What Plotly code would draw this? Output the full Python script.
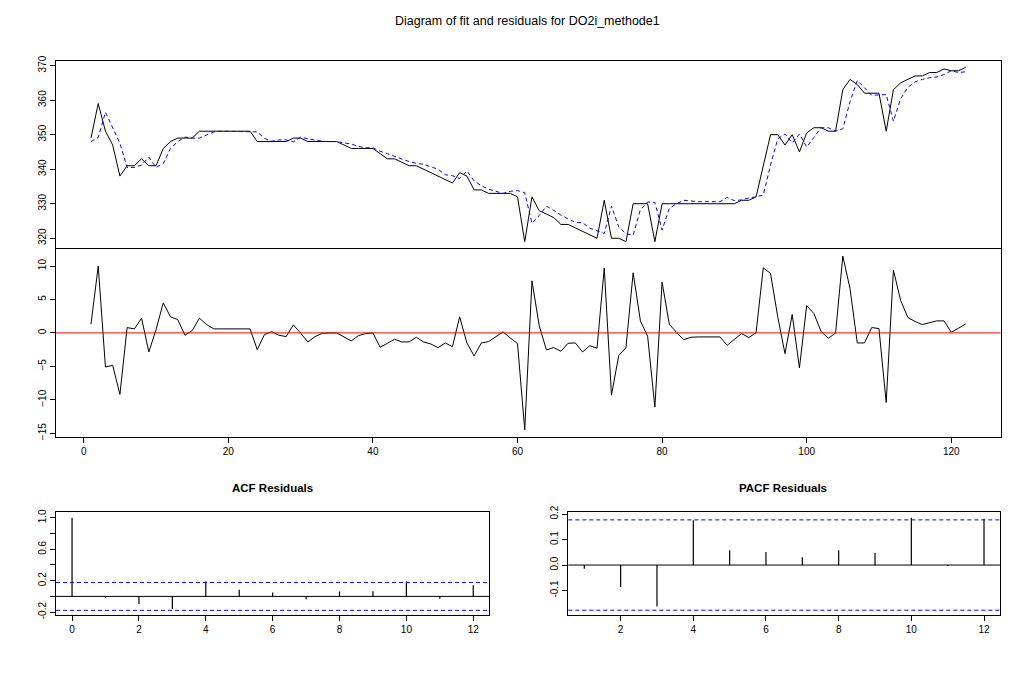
import plotly.graph_objects as go

W, H = 1024, 695

# ---------------- data ----------------
t = list(range(1, 123))

actual = [
    349, 359, 351, 347, 338, 341, 341, 343, 341, 341,
    346, 348, 349, 349, 349, 351, 351, 351, 351, 351,
    351, 351, 351, 348, 348, 348, 348, 348, 349, 349,
    348, 348, 348, 348, 348, 347, 346, 346, 346, 346,
    344.5, 343, 343, 342, 341, 341, 340, 339, 338, 337,
    336, 339, 338, 334, 334, 333, 333, 333, 333, 332,
    319, 332, 328, 327, 326, 324, 324, 323, 322, 321,
    320, 331, 320, 320, 319, 330, 330, 330, 319, 330,
    330, 330, 330, 330, 330, 330, 330, 330, 330, 330,
    331, 331, 332, 341, 350, 350, 347, 350, 345, 350.5,
    352, 352, 351, 351, 363, 366, 364.5, 362, 362, 362,
    351, 363, 365, 366, 367, 367, 368, 368, 369, 368.5,
    368.5, 369.5,
]

fitted = [
    348, 349.2, 356.5, 352, 347.5, 340.5, 340.5, 341.2, 343.5, 340.5,
    341.6, 346, 348, 349.3, 349, 349, 350, 350.8, 351, 351,
    351, 351, 351, 350.8, 348.9, 348.1, 348.5, 348.5, 347.9, 349.3,
    348.8, 348.4, 348.1, 348, 348, 347.6, 347.3, 346.6, 346.2, 346.2,
    345.2, 344.5, 343.7, 343.1, 342.2, 341.7, 341.4, 340.7, 340, 338.4,
    338.1, 337.3, 339.5, 336.6, 335.2, 334.2, 333.5, 333, 333.6, 333.8,
    333.2, 324.3, 326.6, 329.3, 328.1, 326.7, 325.6, 324.6, 324.5, 322.9,
    322.2, 321.4, 329.3, 323.3, 321.3, 320.9, 328.3, 330.5, 330.4, 322.4,
    328.7, 330, 331, 330.7, 330.6, 330.6, 330.6, 330.6, 331.8, 330.9,
    331.1, 331.7, 332, 332.5, 341.2, 348.8, 350.2, 347.6, 350.2, 346.4,
    349.2, 352, 352, 351, 351.7, 359.6, 365.7, 363.4, 361.4, 361.5,
    361.6, 353.9, 360.4, 363.7, 365.3, 366, 366.5, 366.7, 367.4, 368.5,
    368, 368.2,
]

residuals = [
    1.3, 10.0, -5.1, -4.85, -9.2, 0.8, 0.6, 2.2, -2.85, 0.5,
    4.5, 2.4, 2.0, -0.35, 0.35, 2.2, 1.25, 0.6, 0.6, 0.6,
    0.6, 0.6, 0.6, -2.5, -0.25, 0.2, -0.35, -0.55, 1.2, -0.05,
    -1.35, -0.55, -0.05, 0, 0, -0.6, -1.2, -0.4, -0.1, 0,
    -2.15, -1.55, -0.95, -1.35, -1.35, -0.65, -1.35, -1.65, -2.2, -1.5,
    -2.05, 2.4, -1.5, -3.45, -1.5, -1.3, -0.6, 0.15, -0.75, -1.6,
    -14.5, 7.8, 1.1, -2.55, -2.2, -2.75, -1.55, -1.5, -2.85, -1.9,
    -2.3, 9.7, -9.3, -3.4, -2.2, 9.0, 1.8, -0.5, -11.1, 7.6,
    1.3, 0.05, -1.0, -0.65, -0.6, -0.6, -0.6, -0.6, -1.85, -0.9,
    -0.1, -0.7, 0.05, 9.75, 8.9, 2.4, -3.1, 2.75, -5.25, 4.1,
    2.9, 0.2, -0.8, 0, 11.5, 6.6, -1.5, -1.5, 0.8, 0.65,
    -10.4, 9.4, 4.85, 2.3, 1.7, 1.25, 1.5, 1.8, 1.8, 0.1,
    0.7, 1.35,
]

acf_lags = list(range(0, 13))
acf_vals = [1.0, -0.02, -0.097, -0.16, 0.19, 0.084, 0.05, -0.038, 0.063, 0.067, 0.19, -0.03, 0.143]

pacf_lags = list(range(1, 13))
pacf_vals = [-0.015, -0.086, -0.163, 0.176, 0.058, 0.051, 0.031, 0.058, 0.047, 0.186, -0.004, 0.182]

conf_band = 0.1775

fit_yticks = [320, 330, 340, 350, 360, 370]
res_yticks = [-15, -10, -5, 0, 5, 10]
res_xticks = [0, 20, 40, 60, 80, 100, 120]
acf_yticks = [-0.2, 0.0, 0.2, 0.4, 0.6, 0.8, 1.0]
acf_yticktext = ["-0.2", "", "0.2", "", "0.6", "", "1.0"]
acf_xticks = [0, 2, 4, 6, 8, 10, 12]
pacf_yticks = [-0.1, 0.0, 0.1, 0.2]
pacf_yticktext = ["-0.1", "0.0", "0.1", "0.2"]
pacf_xticks = [2, 4, 6, 8, 10, 12]

title_main = "Diagram of fit and residuals for DO2i_methode1"
title_acf = "ACF Residuals"
title_pacf = "PACF Residuals"

# ---------------- layout helpers ----------------
def px(xp):
    return xp / W

def py(yp):
    return 1 - yp / H

FONT = "Liberation Sans, Arial, sans-serif"
TICKSZ = 10


def stems(xs, ys):
    xx, yy = [], []
    for a, b in zip(xs, ys):
        xx += [a, a, None]
        yy += [0, b, None]
    return xx, yy


fig = go.Figure()

# top panel: actual and fitted
fig.add_trace(go.Scatter(x=t, y=actual, mode="lines", line=dict(color="black", width=1),
                         xaxis="x", yaxis="y", showlegend=False))
fig.add_trace(go.Scatter(x=t, y=fitted, mode="lines", line=dict(color="#0000FF", width=1, dash="4px,3px"),
                         xaxis="x", yaxis="y", showlegend=False))

# residual panel
fig.add_trace(go.Scatter(x=t, y=residuals, mode="lines", line=dict(color="black", width=1),
                         xaxis="x2", yaxis="y2", showlegend=False))

# ACF
ax, ay = stems(acf_lags, acf_vals)
fig.add_trace(go.Scatter(x=ax, y=ay, mode="lines", line=dict(color="black", width=1.2),
                         xaxis="x3", yaxis="y3", showlegend=False))
# PACF
bx, by = stems(pacf_lags, pacf_vals)
fig.add_trace(go.Scatter(x=bx, y=by, mode="lines", line=dict(color="black", width=1.2),
                         xaxis="x4", yaxis="y4", showlegend=False))

common_axis = dict(showgrid=False, zeroline=False, showline=True, mirror=True,
                   linecolor="black", linewidth=1, ticks="outside", ticklen=5,
                   tickcolor="black", tickfont=dict(family=FONT, size=TICKSZ, color="black"))

x_top = (56, 1000.7)
fig.update_layout(
    width=W, height=H,
    margin=dict(l=0, r=0, t=0, b=0),
    paper_bgcolor="white", plot_bgcolor="white",
    hovermode=False,
    xaxis=dict(common_axis, domain=[px(x_top[0]), px(x_top[1])], range=[-3.84, 126.84],
               showticklabels=False, ticks="", mirror=False, side="top", anchor="y"),
    yaxis=dict(common_axis, domain=[py(246), py(54.5)], range=[316.86, 371.43],
               tickvals=fit_yticks, tickangle=-90, anchor="x"),
    xaxis2=dict(common_axis, domain=[px(x_top[0]), px(x_top[1])], range=[-3.84, 126.84],
                tickvals=res_xticks, anchor="y2"),
    yaxis2=dict(common_axis, domain=[py(437.3), py(246)], range=[-15.63, 12.54],
                tickvals=res_yticks, tickangle=-90, anchor="x2"),
    xaxis3=dict(common_axis, domain=[px(56), px(489.3)], range=[-0.48, 12.48],
                tickvals=acf_xticks, anchor="y3"),
    yaxis3=dict(common_axis, domain=[py(617.7), py(513.5)], range=[-0.236, 1.07],
                tickvals=acf_yticks, ticktext=acf_yticktext, tickangle=-90, anchor="x3"),
    xaxis4=dict(common_axis, domain=[px(568.3), px(1000)], range=[0.56, 12.44],
                tickvals=pacf_xticks, anchor="y4"),
    yaxis4=dict(common_axis, domain=[py(617.7), py(513.5)], range=[-0.196, 0.207],
                tickvals=pacf_yticks, ticktext=pacf_yticktext, tickangle=-90, anchor="x4"),
)

shapes = [
    # residual zero line (red)
    dict(type="line", xref="x2 domain", yref="y2", x0=0, x1=1, y0=0, y1=0,
         line=dict(color="#FF0000", width=1)),
    # ACF zero + confidence bands
    dict(type="line", xref="x3 domain", yref="y3", x0=0, x1=1, y0=0, y1=0,
         line=dict(color="black", width=1)),
    dict(type="line", xref="x3 domain", yref="y3", x0=0, x1=1, y0=conf_band, y1=conf_band,
         line=dict(color="#0000FF", width=1, dash="4px,3px")),
    dict(type="line", xref="x3 domain", yref="y3", x0=0, x1=1, y0=-conf_band, y1=-conf_band,
         line=dict(color="#0000FF", width=1, dash="4px,3px")),
    # PACF zero + confidence bands
    dict(type="line", xref="x4 domain", yref="y4", x0=0, x1=1, y0=0, y1=0,
         line=dict(color="black", width=1)),
    dict(type="line", xref="x4 domain", yref="y4", x0=0, x1=1, y0=conf_band, y1=conf_band,
         line=dict(color="#0000FF", width=1, dash="4px,3px")),
    dict(type="line", xref="x4 domain", yref="y4", x0=0, x1=1, y0=-conf_band, y1=-conf_band,
         line=dict(color="#0000FF", width=1, dash="4px,3px")),
]
fig.update_layout(shapes=shapes)

annotations = [
    dict(text=title_main, xref="paper", yref="paper", x=px(527), y=py(14), showarrow=False,
         xanchor="center", yanchor="middle", font=dict(family=FONT, size=12.5, color="black")),
    dict(text="<b>" + title_acf + "</b>", xref="paper", yref="paper", x=px(272), y=py(489),
         showarrow=False, xanchor="center", yanchor="middle",
         font=dict(family=FONT, size=11.5, color="black")),
    dict(text="<b>" + title_pacf + "</b>", xref="paper", yref="paper", x=px(783), y=py(489),
         showarrow=False, xanchor="center", yanchor="middle",
         font=dict(family=FONT, size=11.5, color="black")),
]
fig.update_layout(annotations=annotations)

fig.write_html("out.html", config={"displayModeBar": False, "staticPlot": True},
               post_script="document.body.style.margin='0';document.body.style.overflow='hidden';")
